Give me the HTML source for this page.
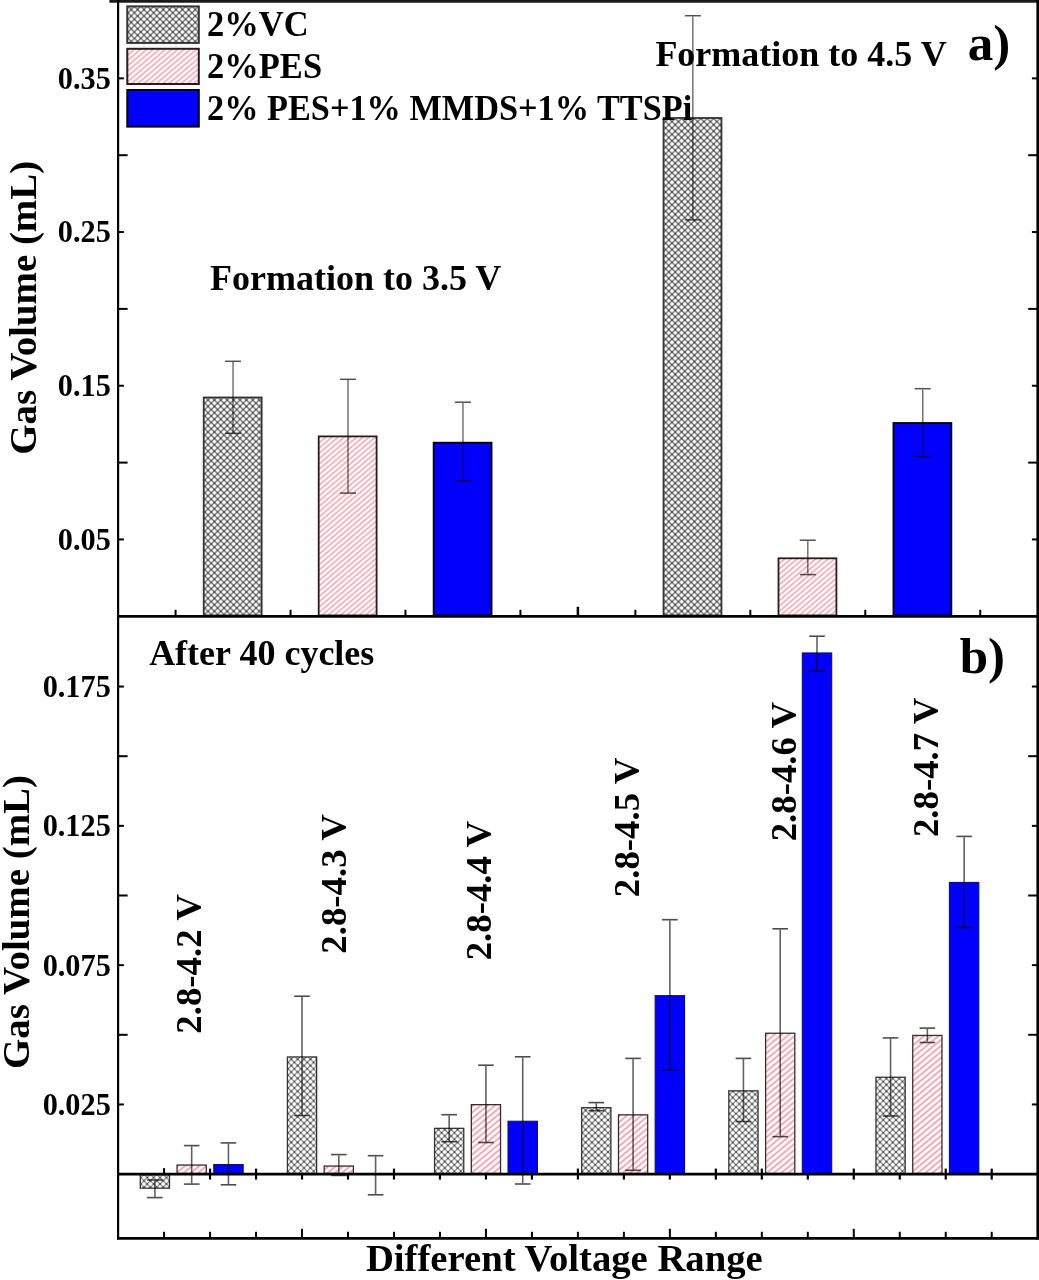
<!DOCTYPE html><html><head><meta charset="utf-8"><style>
html,body{margin:0;padding:0;background:#fff;overflow:hidden}
svg{display:block;will-change:transform}
</style></head><body>
<svg width="1039" height="1280" viewBox="0 0 1039 1280">
<defs>
<pattern id="vc" patternUnits="userSpaceOnUse" width="6.4" height="6.4">
<rect width="6.4" height="6.4" fill="#fff"/>
<path d="M0,0 L6.4,6.4 M6.4,0 L0,6.4" stroke="#777" stroke-width="1.45"/>
<circle cx="0" cy="0" r="1.1" fill="#555"/><circle cx="6.4" cy="0" r="1.1" fill="#555"/><circle cx="0" cy="6.4" r="1.1" fill="#555"/><circle cx="6.4" cy="6.4" r="1.1" fill="#555"/><circle cx="3.2" cy="3.2" r="1.1" fill="#555"/>
</pattern>
<pattern id="vcb" patternUnits="userSpaceOnUse" width="6.4" height="6.4">
<rect width="6.4" height="6.4" fill="#fff"/>
<path d="M0,0 L6.4,6.4 M6.4,0 L0,6.4" stroke="#707070" stroke-width="1.05"/>
<circle cx="0" cy="0" r="1.0" fill="#444"/><circle cx="6.4" cy="0" r="1.0" fill="#444"/><circle cx="0" cy="6.4" r="1.0" fill="#444"/><circle cx="6.4" cy="6.4" r="1.0" fill="#444"/><circle cx="3.2" cy="3.2" r="1.0" fill="#444"/>
</pattern>
<pattern id="pesb" patternUnits="userSpaceOnUse" width="6" height="6" patternTransform="scale(1.2,1)">
<rect width="6" height="6" fill="#fff"/>
<path d="M-1.5,1.5 L1.5,-1.5 M0,6 L6,0 M4.5,7.5 L7.5,4.5" stroke="#f3aab6" stroke-width="1.9"/>
</pattern>
<pattern id="pes" patternUnits="userSpaceOnUse" width="5.3" height="5.3" patternTransform="scale(1.17,1)">
<rect width="5.3" height="5.3" fill="#fff"/>
<path d="M-1.3,1.3 L1.3,-1.3 M0,5.3 L5.3,0 M4,6.6 L6.6,4" stroke="#f3adb9" stroke-width="1.7"/>
</pattern>
</defs>
<rect width="1039" height="1280" fill="#fff"/>

<line x1="175.57" y1="616.30" x2="175.57" y2="609.80" stroke="#000" stroke-width="2"/>
<line x1="290.52" y1="616.30" x2="290.52" y2="609.80" stroke="#000" stroke-width="2"/>
<line x1="405.48" y1="616.30" x2="405.48" y2="609.80" stroke="#000" stroke-width="2"/>
<line x1="520.42" y1="616.30" x2="520.42" y2="609.80" stroke="#000" stroke-width="2"/>
<line x1="635.38" y1="616.30" x2="635.38" y2="609.80" stroke="#000" stroke-width="2"/>
<line x1="750.33" y1="616.30" x2="750.33" y2="609.80" stroke="#000" stroke-width="2"/>
<line x1="865.28" y1="616.30" x2="865.28" y2="609.80" stroke="#000" stroke-width="2"/>
<line x1="980.23" y1="616.30" x2="980.23" y2="609.80" stroke="#000" stroke-width="2"/>
<line x1="577.90" y1="616.30" x2="577.90" y2="606.80" stroke="#000" stroke-width="2.5"/>
<rect x="203.75" y="397.50" width="57.90" height="217.90" fill="url(#vc)" stroke="#333" stroke-width="1.8"/>
<rect x="318.70" y="436.40" width="57.90" height="179.00" fill="url(#pes)" stroke="#2a1c1c" stroke-width="1.8"/>
<rect x="433.65" y="442.70" width="57.90" height="172.70" fill="#0000fc" stroke="#000" stroke-width="1.8"/>
<rect x="663.55" y="118.00" width="57.90" height="497.40" fill="url(#vc)" stroke="#333" stroke-width="1.8"/>
<rect x="778.50" y="558.30" width="57.90" height="57.10" fill="url(#pes)" stroke="#2a1c1c" stroke-width="1.8"/>
<rect x="893.45" y="423.00" width="57.90" height="192.40" fill="#0000fc" stroke="#000" stroke-width="1.8"/>
<line x1="233.05" y1="362.05" x2="233.05" y2="432.55" stroke="#000" stroke-width="1.5" stroke-opacity="0.55"/>
<line x1="225.05" y1="361.30" x2="241.05" y2="361.30" stroke="#000" stroke-width="1.5" stroke-opacity="0.68"/>
<line x1="225.05" y1="433.30" x2="241.05" y2="433.30" stroke="#000" stroke-width="1.5" stroke-opacity="0.68"/>
<line x1="348.00" y1="380.05" x2="348.00" y2="492.35" stroke="#000" stroke-width="1.5" stroke-opacity="0.55"/>
<line x1="340.00" y1="379.30" x2="356.00" y2="379.30" stroke="#000" stroke-width="1.5" stroke-opacity="0.68"/>
<line x1="340.00" y1="493.10" x2="356.00" y2="493.10" stroke="#000" stroke-width="1.5" stroke-opacity="0.68"/>
<line x1="462.95" y1="402.95" x2="462.95" y2="479.95" stroke="#000" stroke-width="1.5" stroke-opacity="0.55"/>
<line x1="454.95" y1="402.20" x2="470.95" y2="402.20" stroke="#000" stroke-width="1.5" stroke-opacity="0.68"/>
<line x1="454.95" y1="480.70" x2="470.95" y2="480.70" stroke="#000" stroke-width="1.5" stroke-opacity="0.68"/>
<line x1="692.85" y1="16.45" x2="692.85" y2="219.15" stroke="#000" stroke-width="1.5" stroke-opacity="0.55"/>
<line x1="684.85" y1="15.70" x2="700.85" y2="15.70" stroke="#000" stroke-width="1.5" stroke-opacity="0.68"/>
<line x1="684.85" y1="219.90" x2="700.85" y2="219.90" stroke="#000" stroke-width="1.5" stroke-opacity="0.68"/>
<line x1="807.80" y1="540.95" x2="807.80" y2="573.85" stroke="#000" stroke-width="1.5" stroke-opacity="0.55"/>
<line x1="799.80" y1="540.20" x2="815.80" y2="540.20" stroke="#000" stroke-width="1.5" stroke-opacity="0.68"/>
<line x1="799.80" y1="574.60" x2="815.80" y2="574.60" stroke="#000" stroke-width="1.5" stroke-opacity="0.68"/>
<line x1="922.75" y1="389.45" x2="922.75" y2="455.85" stroke="#000" stroke-width="1.5" stroke-opacity="0.55"/>
<line x1="914.75" y1="388.70" x2="930.75" y2="388.70" stroke="#000" stroke-width="1.5" stroke-opacity="0.68"/>
<line x1="914.75" y1="456.60" x2="930.75" y2="456.60" stroke="#000" stroke-width="1.5" stroke-opacity="0.68"/>
<line x1="118.10" y1="539.45" x2="123.90" y2="539.45" stroke="#000" stroke-width="2"/>
<line x1="1037.70" y1="539.45" x2="1031.90" y2="539.45" stroke="#000" stroke-width="2"/>
<line x1="118.10" y1="462.60" x2="127.60" y2="462.60" stroke="#000" stroke-width="2"/>
<line x1="1037.70" y1="462.60" x2="1028.20" y2="462.60" stroke="#000" stroke-width="2"/>
<line x1="118.10" y1="385.75" x2="123.90" y2="385.75" stroke="#000" stroke-width="2"/>
<line x1="1037.70" y1="385.75" x2="1031.90" y2="385.75" stroke="#000" stroke-width="2"/>
<line x1="118.10" y1="308.90" x2="127.60" y2="308.90" stroke="#000" stroke-width="2"/>
<line x1="1037.70" y1="308.90" x2="1028.20" y2="308.90" stroke="#000" stroke-width="2"/>
<line x1="118.10" y1="232.05" x2="123.90" y2="232.05" stroke="#000" stroke-width="2"/>
<line x1="1037.70" y1="232.05" x2="1031.90" y2="232.05" stroke="#000" stroke-width="2"/>
<line x1="118.10" y1="155.20" x2="127.60" y2="155.20" stroke="#000" stroke-width="2"/>
<line x1="1037.70" y1="155.20" x2="1028.20" y2="155.20" stroke="#000" stroke-width="2"/>
<line x1="118.10" y1="78.35" x2="123.90" y2="78.35" stroke="#000" stroke-width="2"/>
<line x1="1037.70" y1="78.35" x2="1031.90" y2="78.35" stroke="#000" stroke-width="2"/>
<text transform="translate(110.81,88.75) scale(1,1.06)" font-family="Liberation Serif" font-weight="bold" font-size="30.3" text-anchor="end" >0.35</text>
<text transform="translate(110.81,242.45) scale(1,1.06)" font-family="Liberation Serif" font-weight="bold" font-size="30.3" text-anchor="end" >0.25</text>
<text transform="translate(110.81,396.15) scale(1,1.06)" font-family="Liberation Serif" font-weight="bold" font-size="30.3" text-anchor="end" >0.15</text>
<text transform="translate(110.81,549.85) scale(1,1.06)" font-family="Liberation Serif" font-weight="bold" font-size="30.3" text-anchor="end" >0.05</text>
<line x1="164.08" y1="1238.30" x2="164.08" y2="1231.80" stroke="#000" stroke-width="2"/>
<line x1="164.08" y1="1174.10" x2="164.08" y2="1168.10" stroke="#000" stroke-width="2"/>
<line x1="210.06" y1="1238.30" x2="210.06" y2="1231.80" stroke="#000" stroke-width="2"/>
<line x1="210.06" y1="1168.60" x2="210.06" y2="1179.60" stroke="#000" stroke-width="2.2"/>
<line x1="256.04" y1="1238.30" x2="256.04" y2="1231.80" stroke="#000" stroke-width="2"/>
<line x1="256.04" y1="1168.60" x2="256.04" y2="1179.60" stroke="#000" stroke-width="2.2"/>
<line x1="302.02" y1="1238.30" x2="302.02" y2="1228.80" stroke="#000" stroke-width="2"/>
<line x1="302.02" y1="1168.60" x2="302.02" y2="1179.60" stroke="#000" stroke-width="2.2"/>
<line x1="348.00" y1="1238.30" x2="348.00" y2="1231.80" stroke="#000" stroke-width="2"/>
<line x1="348.00" y1="1168.60" x2="348.00" y2="1179.60" stroke="#000" stroke-width="2.2"/>
<line x1="393.98" y1="1238.30" x2="393.98" y2="1231.80" stroke="#000" stroke-width="2"/>
<line x1="393.98" y1="1168.60" x2="393.98" y2="1179.60" stroke="#000" stroke-width="2.2"/>
<line x1="439.96" y1="1238.30" x2="439.96" y2="1231.80" stroke="#000" stroke-width="2"/>
<line x1="439.96" y1="1168.60" x2="439.96" y2="1179.60" stroke="#000" stroke-width="2.2"/>
<line x1="485.94" y1="1238.30" x2="485.94" y2="1228.80" stroke="#000" stroke-width="2"/>
<line x1="485.94" y1="1168.60" x2="485.94" y2="1179.60" stroke="#000" stroke-width="2.2"/>
<line x1="531.92" y1="1238.30" x2="531.92" y2="1231.80" stroke="#000" stroke-width="2"/>
<line x1="531.92" y1="1168.60" x2="531.92" y2="1179.60" stroke="#000" stroke-width="2.2"/>
<line x1="577.90" y1="1238.30" x2="577.90" y2="1231.80" stroke="#000" stroke-width="2"/>
<line x1="577.90" y1="1168.60" x2="577.90" y2="1179.60" stroke="#000" stroke-width="2.2"/>
<line x1="623.88" y1="1238.30" x2="623.88" y2="1231.80" stroke="#000" stroke-width="2"/>
<line x1="623.88" y1="1168.60" x2="623.88" y2="1179.60" stroke="#000" stroke-width="2.2"/>
<line x1="669.86" y1="1238.30" x2="669.86" y2="1228.80" stroke="#000" stroke-width="2"/>
<line x1="669.86" y1="1168.60" x2="669.86" y2="1179.60" stroke="#000" stroke-width="2.2"/>
<line x1="715.84" y1="1238.30" x2="715.84" y2="1231.80" stroke="#000" stroke-width="2"/>
<line x1="715.84" y1="1168.60" x2="715.84" y2="1179.60" stroke="#000" stroke-width="2.2"/>
<line x1="761.82" y1="1238.30" x2="761.82" y2="1231.80" stroke="#000" stroke-width="2"/>
<line x1="761.82" y1="1168.60" x2="761.82" y2="1179.60" stroke="#000" stroke-width="2.2"/>
<line x1="807.80" y1="1238.30" x2="807.80" y2="1231.80" stroke="#000" stroke-width="2"/>
<line x1="807.80" y1="1168.60" x2="807.80" y2="1179.60" stroke="#000" stroke-width="2.2"/>
<line x1="853.78" y1="1238.30" x2="853.78" y2="1228.80" stroke="#000" stroke-width="2"/>
<line x1="853.78" y1="1168.60" x2="853.78" y2="1179.60" stroke="#000" stroke-width="2.2"/>
<line x1="899.76" y1="1238.30" x2="899.76" y2="1231.80" stroke="#000" stroke-width="2"/>
<line x1="899.76" y1="1168.60" x2="899.76" y2="1179.60" stroke="#000" stroke-width="2.2"/>
<line x1="945.74" y1="1238.30" x2="945.74" y2="1231.80" stroke="#000" stroke-width="2"/>
<line x1="945.74" y1="1168.60" x2="945.74" y2="1179.60" stroke="#000" stroke-width="2.2"/>
<line x1="991.72" y1="1238.30" x2="991.72" y2="1231.80" stroke="#000" stroke-width="2"/>
<line x1="991.72" y1="1168.60" x2="991.72" y2="1179.60" stroke="#000" stroke-width="2.2"/>
<rect x="140.28" y="1174.75" width="29.20" height="13.40" fill="url(#vcb)" stroke="#333" stroke-width="1.3"/>
<rect x="177.07" y="1165.05" width="29.20" height="8.40" fill="url(#pesb)" stroke="#3a2c2c" stroke-width="1.3"/>
<rect x="213.75" y="1164.55" width="29.40" height="9.00" fill="#0000fc" stroke="#10106a" stroke-width="1.1"/>
<rect x="287.42" y="1056.95" width="29.20" height="116.50" fill="url(#vcb)" stroke="#333" stroke-width="1.3"/>
<rect x="324.20" y="1166.05" width="29.20" height="7.40" fill="url(#pesb)" stroke="#3a2c2c" stroke-width="1.3"/>
<rect x="434.56" y="1128.35" width="29.20" height="45.10" fill="url(#vcb)" stroke="#333" stroke-width="1.3"/>
<rect x="471.34" y="1104.65" width="29.20" height="68.80" fill="url(#pesb)" stroke="#3a2c2c" stroke-width="1.3"/>
<rect x="508.02" y="1121.25" width="29.40" height="52.30" fill="#0000fc" stroke="#10106a" stroke-width="1.1"/>
<rect x="581.69" y="1107.65" width="29.20" height="65.80" fill="url(#vcb)" stroke="#333" stroke-width="1.3"/>
<rect x="618.48" y="1114.85" width="29.20" height="58.60" fill="url(#pesb)" stroke="#3a2c2c" stroke-width="1.3"/>
<rect x="655.16" y="995.65" width="29.40" height="177.90" fill="#0000fc" stroke="#10106a" stroke-width="1.1"/>
<rect x="728.83" y="1090.85" width="29.20" height="82.60" fill="url(#vcb)" stroke="#333" stroke-width="1.3"/>
<rect x="765.61" y="1033.25" width="29.20" height="140.20" fill="url(#pesb)" stroke="#3a2c2c" stroke-width="1.3"/>
<rect x="802.30" y="652.95" width="29.40" height="520.60" fill="#0000fc" stroke="#10106a" stroke-width="1.1"/>
<rect x="875.96" y="1077.25" width="29.20" height="96.20" fill="url(#vcb)" stroke="#333" stroke-width="1.3"/>
<rect x="912.75" y="1035.45" width="29.20" height="138.00" fill="url(#pesb)" stroke="#3a2c2c" stroke-width="1.3"/>
<rect x="949.43" y="882.45" width="29.40" height="291.10" fill="#0000fc" stroke="#10106a" stroke-width="1.1"/>
<line x1="154.88" y1="1180.80" x2="154.88" y2="1196.80" stroke="#000" stroke-width="1.6" stroke-opacity="0.62"/>
<line x1="147.08" y1="1180.00" x2="162.68" y2="1180.00" stroke="#000" stroke-width="1.6" stroke-opacity="0.7"/>
<line x1="147.08" y1="1197.60" x2="162.68" y2="1197.60" stroke="#000" stroke-width="1.6" stroke-opacity="0.7"/>
<line x1="191.67" y1="1146.40" x2="191.67" y2="1183.30" stroke="#000" stroke-width="1.6" stroke-opacity="0.62"/>
<line x1="183.87" y1="1145.60" x2="199.47" y2="1145.60" stroke="#000" stroke-width="1.6" stroke-opacity="0.7"/>
<line x1="183.87" y1="1184.10" x2="199.47" y2="1184.10" stroke="#000" stroke-width="1.6" stroke-opacity="0.7"/>
<line x1="228.45" y1="1143.70" x2="228.45" y2="1184.00" stroke="#000" stroke-width="1.6" stroke-opacity="0.62"/>
<line x1="220.65" y1="1142.90" x2="236.25" y2="1142.90" stroke="#000" stroke-width="1.6" stroke-opacity="0.7"/>
<line x1="220.65" y1="1184.80" x2="236.25" y2="1184.80" stroke="#000" stroke-width="1.6" stroke-opacity="0.7"/>
<line x1="302.02" y1="997.00" x2="302.02" y2="1114.70" stroke="#000" stroke-width="1.6" stroke-opacity="0.62"/>
<line x1="294.22" y1="996.20" x2="309.82" y2="996.20" stroke="#000" stroke-width="1.6" stroke-opacity="0.7"/>
<line x1="294.22" y1="1115.50" x2="309.82" y2="1115.50" stroke="#000" stroke-width="1.6" stroke-opacity="0.7"/>
<line x1="338.80" y1="1155.40" x2="338.80" y2="1174.60" stroke="#000" stroke-width="1.6" stroke-opacity="0.62"/>
<line x1="331.00" y1="1154.60" x2="346.60" y2="1154.60" stroke="#000" stroke-width="1.6" stroke-opacity="0.7"/>
<line x1="331.00" y1="1175.40" x2="346.60" y2="1175.40" stroke="#000" stroke-width="1.6" stroke-opacity="0.7"/>
<line x1="375.59" y1="1156.50" x2="375.59" y2="1194.00" stroke="#000" stroke-width="1.6" stroke-opacity="0.62"/>
<line x1="367.79" y1="1155.70" x2="383.39" y2="1155.70" stroke="#000" stroke-width="1.6" stroke-opacity="0.7"/>
<line x1="367.79" y1="1194.80" x2="383.39" y2="1194.80" stroke="#000" stroke-width="1.6" stroke-opacity="0.7"/>
<line x1="449.16" y1="1115.50" x2="449.16" y2="1140.90" stroke="#000" stroke-width="1.6" stroke-opacity="0.62"/>
<line x1="441.36" y1="1114.70" x2="456.96" y2="1114.70" stroke="#000" stroke-width="1.6" stroke-opacity="0.7"/>
<line x1="441.36" y1="1141.70" x2="456.96" y2="1141.70" stroke="#000" stroke-width="1.6" stroke-opacity="0.7"/>
<line x1="485.94" y1="1066.00" x2="485.94" y2="1141.70" stroke="#000" stroke-width="1.6" stroke-opacity="0.62"/>
<line x1="478.14" y1="1065.20" x2="493.74" y2="1065.20" stroke="#000" stroke-width="1.6" stroke-opacity="0.7"/>
<line x1="478.14" y1="1142.50" x2="493.74" y2="1142.50" stroke="#000" stroke-width="1.6" stroke-opacity="0.7"/>
<line x1="522.72" y1="1057.60" x2="522.72" y2="1183.20" stroke="#000" stroke-width="1.6" stroke-opacity="0.62"/>
<line x1="514.92" y1="1056.80" x2="530.52" y2="1056.80" stroke="#000" stroke-width="1.6" stroke-opacity="0.7"/>
<line x1="514.92" y1="1184.00" x2="530.52" y2="1184.00" stroke="#000" stroke-width="1.6" stroke-opacity="0.7"/>
<line x1="596.29" y1="1103.40" x2="596.29" y2="1109.90" stroke="#000" stroke-width="1.6" stroke-opacity="0.62"/>
<line x1="588.49" y1="1102.60" x2="604.09" y2="1102.60" stroke="#000" stroke-width="1.6" stroke-opacity="0.7"/>
<line x1="588.49" y1="1110.70" x2="604.09" y2="1110.70" stroke="#000" stroke-width="1.6" stroke-opacity="0.7"/>
<line x1="633.08" y1="1059.20" x2="633.08" y2="1169.50" stroke="#000" stroke-width="1.6" stroke-opacity="0.62"/>
<line x1="625.28" y1="1058.40" x2="640.88" y2="1058.40" stroke="#000" stroke-width="1.6" stroke-opacity="0.7"/>
<line x1="625.28" y1="1170.30" x2="640.88" y2="1170.30" stroke="#000" stroke-width="1.6" stroke-opacity="0.7"/>
<line x1="669.86" y1="920.50" x2="669.86" y2="1069.50" stroke="#000" stroke-width="1.6" stroke-opacity="0.62"/>
<line x1="662.06" y1="919.70" x2="677.66" y2="919.70" stroke="#000" stroke-width="1.6" stroke-opacity="0.7"/>
<line x1="662.06" y1="1070.30" x2="677.66" y2="1070.30" stroke="#000" stroke-width="1.6" stroke-opacity="0.7"/>
<line x1="743.43" y1="1059.20" x2="743.43" y2="1120.70" stroke="#000" stroke-width="1.6" stroke-opacity="0.62"/>
<line x1="735.63" y1="1058.40" x2="751.23" y2="1058.40" stroke="#000" stroke-width="1.6" stroke-opacity="0.7"/>
<line x1="735.63" y1="1121.50" x2="751.23" y2="1121.50" stroke="#000" stroke-width="1.6" stroke-opacity="0.7"/>
<line x1="780.21" y1="929.60" x2="780.21" y2="1135.80" stroke="#000" stroke-width="1.6" stroke-opacity="0.62"/>
<line x1="772.41" y1="928.80" x2="788.01" y2="928.80" stroke="#000" stroke-width="1.6" stroke-opacity="0.7"/>
<line x1="772.41" y1="1136.60" x2="788.01" y2="1136.60" stroke="#000" stroke-width="1.6" stroke-opacity="0.7"/>
<line x1="817.00" y1="637.00" x2="817.00" y2="670.30" stroke="#000" stroke-width="1.6" stroke-opacity="0.62"/>
<line x1="809.20" y1="636.20" x2="824.80" y2="636.20" stroke="#000" stroke-width="1.6" stroke-opacity="0.7"/>
<line x1="809.20" y1="671.10" x2="824.80" y2="671.10" stroke="#000" stroke-width="1.6" stroke-opacity="0.7"/>
<line x1="890.56" y1="1038.70" x2="890.56" y2="1115.20" stroke="#000" stroke-width="1.6" stroke-opacity="0.62"/>
<line x1="882.76" y1="1037.90" x2="898.36" y2="1037.90" stroke="#000" stroke-width="1.6" stroke-opacity="0.7"/>
<line x1="882.76" y1="1116.00" x2="898.36" y2="1116.00" stroke="#000" stroke-width="1.6" stroke-opacity="0.7"/>
<line x1="927.35" y1="1028.90" x2="927.35" y2="1041.70" stroke="#000" stroke-width="1.6" stroke-opacity="0.62"/>
<line x1="919.55" y1="1028.10" x2="935.15" y2="1028.10" stroke="#000" stroke-width="1.6" stroke-opacity="0.7"/>
<line x1="919.55" y1="1042.50" x2="935.15" y2="1042.50" stroke="#000" stroke-width="1.6" stroke-opacity="0.7"/>
<line x1="964.13" y1="837.20" x2="964.13" y2="926.70" stroke="#000" stroke-width="1.6" stroke-opacity="0.62"/>
<line x1="956.33" y1="836.40" x2="971.93" y2="836.40" stroke="#000" stroke-width="1.6" stroke-opacity="0.7"/>
<line x1="956.33" y1="927.50" x2="971.93" y2="927.50" stroke="#000" stroke-width="1.6" stroke-opacity="0.7"/>
<line x1="118.10" y1="1104.45" x2="123.90" y2="1104.45" stroke="#000" stroke-width="2"/>
<line x1="1037.70" y1="1104.45" x2="1031.90" y2="1104.45" stroke="#000" stroke-width="2"/>
<line x1="118.10" y1="1034.80" x2="127.60" y2="1034.80" stroke="#000" stroke-width="2"/>
<line x1="1037.70" y1="1034.80" x2="1028.20" y2="1034.80" stroke="#000" stroke-width="2"/>
<line x1="118.10" y1="965.15" x2="123.90" y2="965.15" stroke="#000" stroke-width="2"/>
<line x1="1037.70" y1="965.15" x2="1031.90" y2="965.15" stroke="#000" stroke-width="2"/>
<line x1="118.10" y1="895.50" x2="127.60" y2="895.50" stroke="#000" stroke-width="2"/>
<line x1="1037.70" y1="895.50" x2="1028.20" y2="895.50" stroke="#000" stroke-width="2"/>
<line x1="118.10" y1="825.85" x2="123.90" y2="825.85" stroke="#000" stroke-width="2"/>
<line x1="1037.70" y1="825.85" x2="1031.90" y2="825.85" stroke="#000" stroke-width="2"/>
<line x1="118.10" y1="756.20" x2="127.60" y2="756.20" stroke="#000" stroke-width="2"/>
<line x1="1037.70" y1="756.20" x2="1028.20" y2="756.20" stroke="#000" stroke-width="2"/>
<line x1="118.10" y1="686.55" x2="123.90" y2="686.55" stroke="#000" stroke-width="2"/>
<line x1="1037.70" y1="686.55" x2="1031.90" y2="686.55" stroke="#000" stroke-width="2"/>
<text transform="translate(110.81,696.95) scale(1,1.06)" font-family="Liberation Serif" font-weight="bold" font-size="30.3" text-anchor="end" >0.175</text>
<text transform="translate(110.81,836.25) scale(1,1.06)" font-family="Liberation Serif" font-weight="bold" font-size="30.3" text-anchor="end" >0.125</text>
<text transform="translate(110.81,975.55) scale(1,1.06)" font-family="Liberation Serif" font-weight="bold" font-size="30.3" text-anchor="end" >0.075</text>
<text transform="translate(110.81,1114.85) scale(1,1.06)" font-family="Liberation Serif" font-weight="bold" font-size="30.3" text-anchor="end" >0.025</text>
<line x1="109.40" y1="1.35" x2="1039.00" y2="1.35" stroke="#1a1a1a" stroke-width="2.7"/>
<line x1="118.10" y1="0.00" x2="118.10" y2="1239.60" stroke="#000" stroke-width="2.2"/>
<line x1="1037.70" y1="0.00" x2="1037.70" y2="1239.60" stroke="#000" stroke-width="2.6"/>
<line x1="118.10" y1="616.30" x2="1037.70" y2="616.30" stroke="#000" stroke-width="2.7"/>
<line x1="118.10" y1="1174.10" x2="1037.70" y2="1174.10" stroke="#000" stroke-width="2.6"/>
<line x1="117.00" y1="1238.30" x2="1039.00" y2="1238.30" stroke="#000" stroke-width="2.7"/>
<rect x="127.30" y="6.40" width="71.50" height="36.50" fill="url(#vc)" stroke="#333" stroke-width="2"/>
<rect x="127.30" y="48.80" width="71.50" height="35.20" fill="url(#pes)" stroke="#2a1c1c" stroke-width="2"/>
<rect x="127.30" y="90.00" width="71.50" height="36.60" fill="#0000fc" stroke="#000" stroke-width="2"/>
<text transform="translate(207.05,36.40) scale(1,1.06)" font-family="Liberation Serif" font-weight="bold" font-size="34.5" text-anchor="start" >2%VC</text>
<text transform="translate(207.05,78.00) scale(1,1.06)" font-family="Liberation Serif" font-weight="bold" font-size="34.5" text-anchor="start" >2%PES</text>
<text transform="translate(207.06,119.60) scale(1,1.075)" font-family="Liberation Serif" font-weight="bold" font-size="34.3" text-anchor="start" >2% PES+1% MMDS+1% TTSPi</text>
<text x="655.39" y="66.20" font-family="Liberation Serif" font-weight="bold" font-size="36" text-anchor="start" >Formation to 4.5 V</text>
<text x="209.99" y="289.70" font-family="Liberation Serif" font-weight="bold" font-size="36" text-anchor="start" >Formation to 3.5 V</text>
<text x="967.87" y="60.40" font-family="Liberation Serif" font-weight="bold" font-size="51" text-anchor="start" >a)</text>
<text x="149.14" y="664.50" font-family="Liberation Serif" font-weight="bold" font-size="36" text-anchor="start" >After 40 cycles</text>
<text x="959.74" y="672.50" font-family="Liberation Serif" font-weight="bold" font-size="51" text-anchor="start" >b)</text>
<text x="365.90" y="1271.00" font-family="Liberation Serif" font-weight="bold" font-size="38.7" text-anchor="start" >Different Voltage Range</text>
<text transform="translate(35.60,454.71) rotate(-90)" font-family="Liberation Serif" font-weight="bold" font-size="38.9" text-anchor="start" >Gas Volume (mL)</text>
<text transform="translate(28.50,1068.91) rotate(-90)" font-family="Liberation Serif" font-weight="bold" font-size="38.9" text-anchor="start" >Gas Volume (mL)</text>
<text transform="translate(201.10,1033.65) rotate(-90)" font-family="Liberation Serif" font-weight="bold" font-size="36.8" text-anchor="start" >2.8-4.2 V</text>
<text transform="translate(346.10,953.65) rotate(-90)" font-family="Liberation Serif" font-weight="bold" font-size="36.8" text-anchor="start" >2.8-4.3 V</text>
<text transform="translate(491.40,960.35) rotate(-90)" font-family="Liberation Serif" font-weight="bold" font-size="36.8" text-anchor="start" >2.8-4.4 V</text>
<text transform="translate(639.00,897.15) rotate(-90)" font-family="Liberation Serif" font-weight="bold" font-size="36.8" text-anchor="start" >2.8-4.5 V</text>
<text transform="translate(795.80,841.35) rotate(-90)" font-family="Liberation Serif" font-weight="bold" font-size="36.8" text-anchor="start" >2.8-4.6 V</text>
<text transform="translate(937.60,837.05) rotate(-90)" font-family="Liberation Serif" font-weight="bold" font-size="36.8" text-anchor="start" >2.8-4.7 V</text>
</svg></body></html>
